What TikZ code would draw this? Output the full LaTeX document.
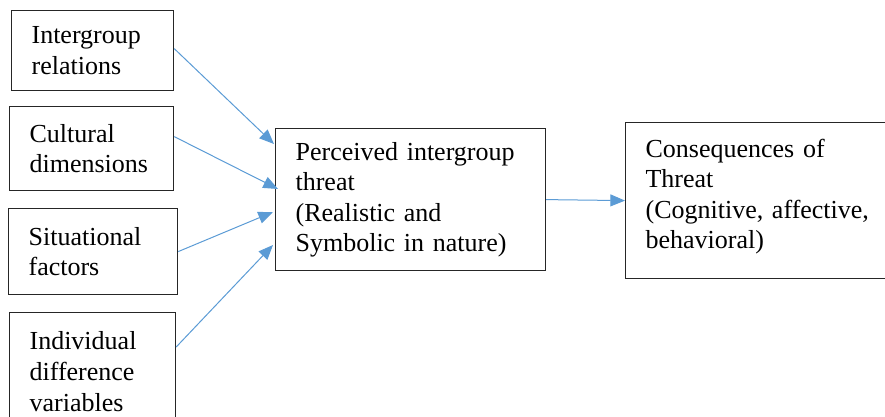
\documentclass[tikz,border=0pt]{standalone}
\usepackage{fontspec}
\setmainfont{Liberation Serif}
\usetikzlibrary{arrows.meta}
\usetikzlibrary{calc}

\begin{document}
\begin{tikzpicture}[x=0.75pt,y=0.75pt,yscale=-1,xscale=1,
  box/.style={draw={rgb, 255:red, 38; green, 38; blue, 38}, line width=0.9pt, anchor=north west, inner xsep=15pt, inner ysep=0pt, align=left, font=\fontsize{19.5}{22.9}\selectfont},
  link/.style={draw={rgb, 255:red, 91; green, 155; blue, 213}, line width=0.75pt, -{Triangle[length=11pt,width=9pt]}}]
%set diagram from 0,0 to 885,417
\path [use as bounding box, clip] (0,0) rectangle (885,417);

% Text Node
\node [box, minimum width=121.5pt, minimum height=60pt, text width=91.5pt] (rel) at (11,10) {Intergroup\\relations};
% Text Node
\node [box, minimum width=123pt, minimum height=63pt, text width=93pt] (cul) at (9,106) {Cultural\\dimensions};
% Text Node
\node [box, minimum width=126.75pt, minimum height=64.5pt, text width=96.75pt] (sit) at (8,208) {Situational\\factors};
% Text Node
\node [box, minimum width=124.5pt, minimum height=88.5pt, text width=94.5pt] (ind) at (9,312) {Individual\\difference\\variables};
% Text Node
\node [box, minimum width=202.5pt, minimum height=106.5pt, text width=172.5pt] (thr) at (275,128) {Perceived intergroup\\threat\\(Realistic and\\Symbolic in nature)};
% Text Node
\node [box, minimum width=202.5pt, minimum height=117pt, text width=172.5pt] (con) at (625,122) {Consequences of\\Threat\\(Cognitive, affective,\\behavioral)\\[-12.6pt]\mbox{}};

%Straight Lines
\draw [link] ($(rel.east)+(0,-2)$) -- ($(thr.north west)+(-1,16)$);
%Straight Lines
\draw [link] ($(cul.east)+(0,-12)$) -- ($(thr.north west)+(3,61)$);
%Straight Lines
\draw [link] (sit.east) -- ($(thr.north west)+(-2,84)$);
%Straight Lines
\draw [link] ($(ind.north east)+(0,35)$) -- ($(thr.north west)+(-2,117)$);
%Straight Lines
\draw [link] (thr.east) -- (con.west);

\end{tikzpicture}
\end{document}
